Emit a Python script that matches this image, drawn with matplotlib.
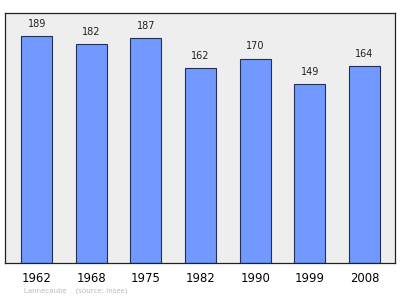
import matplotlib.pyplot as plt

# Population figures per census year
years = ['1962', '1968', '1975', '1982', '1990', '1999', '2008']
population = [189, 182, 187, 162, 170, 149, 164]

fig = plt.figure(figsize=(4, 2.99), dpi=100)
ax = fig.add_axes([0.0125, 0.1204, 0.975, 0.836])
ax.set_facecolor('#eeeeee')

x = list(range(len(years)))
ax.bar(x, population, width=0.57, color='#7299ff', edgecolor='#233055', linewidth=0.8)

# value labels above each bar
for xi, v in zip(x, population):
    ax.text(xi, v + 6, str(v), ha='center', va='bottom', fontsize=7, color='#222222')

ax.set_xlim(-0.58, 6.56)
ax.set_ylim(0, 208)
ax.set_xticks(x)
ax.set_xticklabels(years, fontsize=8.4)
ax.set_yticks([])
ax.tick_params(axis='x', length=0, pad=6.5)
for s in ax.spines.values():
    s.set_linewidth(0.9)
    s.set_color('#222222')

fig.text(0.06, 0.022, 'Lannecaube    (source: Insee)', fontsize=5, color='#bbbbbb')

fig.savefig('out.png', dpi=100)
